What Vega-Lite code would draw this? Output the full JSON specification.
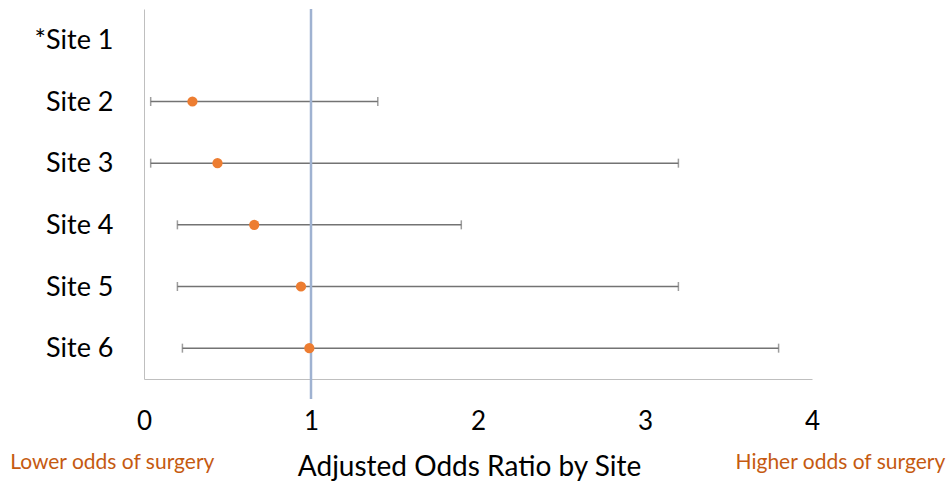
{
  "$schema": "https://vega.github.io/schema/vega-lite/v6.json",
  "width": 668,
  "height": 370,
  "autosize": {"type": "none"},
  "padding": {"left": 144, "top": 9, "right": 138, "bottom": 108},
  "background": "white",
  "config": {"view": {"stroke": null}, "font": "Lato"},
  "datasets": {
    "sites": [
      {"site": "*Site 1", "or": null, "lo": null, "hi": null},
      {"site": "Site 2", "or": 0.29, "lo": 0.04, "hi": 1.4},
      {"site": "Site 3", "or": 0.44, "lo": 0.04, "hi": 3.2},
      {"site": "Site 4", "or": 0.66, "lo": 0.2, "hi": 1.9},
      {"site": "Site 5", "or": 0.94, "lo": 0.2, "hi": 3.2},
      {"site": "Site 6", "or": 0.99, "lo": 0.23, "hi": 3.8}
    ],
    "notes": [
      {"text": "Lower odds of surgery", "pos": -0.19},
      {"text": "Higher odds of surgery", "pos": 4.17}
    ]
  },
  "layer": [
    {
      "data": {"name": "sites"},
      "mark": {"type": "rule", "color": "#737373", "strokeWidth": 1.5},
      "encoding": {
        "y": {
          "field": "site", "type": "nominal",
          "sort": ["*Site 1", "Site 2", "Site 3", "Site 4", "Site 5", "Site 6"],
          "scale": {"paddingInner": 0, "paddingOuter": 0},
          "axis": {
            "title": null, "ticks": false, "domainColor": "#bfbfbf", "domainWidth": 1,
            "labelFontSize": 27, "labelColor": "#000000", "labelPadding": 31,
            "labelFont": "Lato", "labelOffset": 1
          }
        },
        "x": {
          "field": "lo", "type": "quantitative",
          "scale": {"domain": [0, 4], "nice": false},
          "axis": {
            "values": [0, 1, 2, 3, 4], "format": "d", "grid": false, "ticks": false,
            "domainColor": "#bfbfbf", "domainWidth": 1,
            "labelFontSize": 26, "labelColor": "#000000", "labelPadding": 29,
            "labelFont": "Lato", "labelFlush": false,
            "title": "Adjusted Odds Ratio by Site", "titleFontSize": 28,
            "titleFontWeight": "normal", "titleColor": "#000000", "titlePadding": 19,
            "titleFont": "Lato", "titleX": 325
          }
        },
        "x2": {"field": "hi"}
      }
    },
    {
      "data": {"name": "sites"},
      "mark": {"type": "tick", "orient": "vertical", "color": "#737373", "size": 9, "thickness": 1.5},
      "encoding": {
        "y": {"field": "site", "type": "nominal", "sort": ["*Site 1", "Site 2", "Site 3", "Site 4", "Site 5", "Site 6"]},
        "x": {"field": "lo", "type": "quantitative"}
      }
    },
    {
      "data": {"name": "sites"},
      "mark": {"type": "tick", "orient": "vertical", "color": "#737373", "size": 9, "thickness": 1.5},
      "encoding": {
        "y": {"field": "site", "type": "nominal", "sort": ["*Site 1", "Site 2", "Site 3", "Site 4", "Site 5", "Site 6"]},
        "x": {"field": "hi", "type": "quantitative"}
      }
    },
    {
      "data": {"values": [{"v": 1}]},
      "mark": {"type": "rule", "color": "#9fb2d1", "strokeWidth": 2.5},
      "encoding": {
        "x": {"field": "v", "type": "quantitative"},
        "y": {"value": 0},
        "y2": {"value": 390}
      }
    },
    {
      "data": {"name": "sites"},
      "mark": {"type": "point", "filled": true, "color": "#ed7d31", "size": 105, "opacity": 1},
      "encoding": {
        "y": {"field": "site", "type": "nominal", "sort": ["*Site 1", "Site 2", "Site 3", "Site 4", "Site 5", "Site 6"]},
        "x": {"field": "or", "type": "quantitative"}
      }
    },
    {
      "data": {"name": "notes"},
      "mark": {"type": "text", "color": "#c55a11", "fontSize": 21, "font": "Lato", "align": "center", "baseline": "middle", "clip": false},
      "encoding": {
        "x": {"field": "pos", "type": "quantitative"},
        "y": {"value": 454},
        "text": {"field": "text"}
      }
    }
  ]
}
